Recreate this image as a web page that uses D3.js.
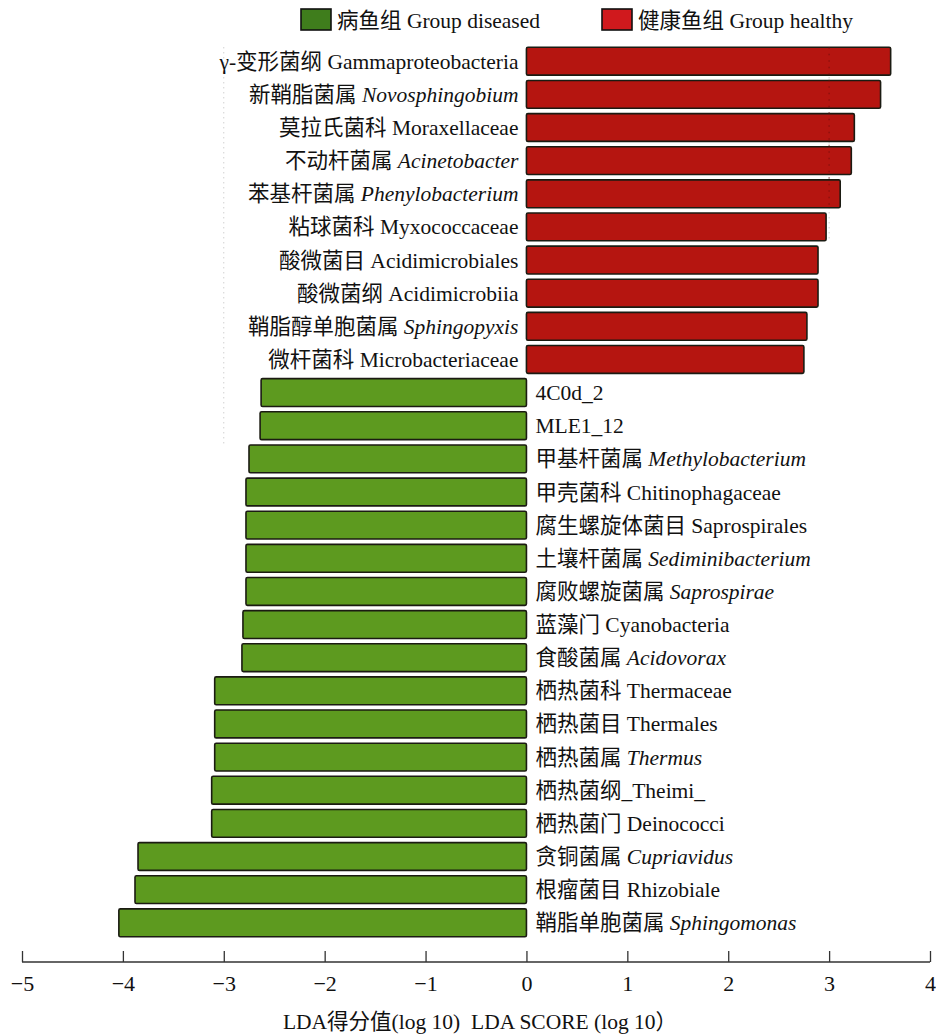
<!DOCTYPE html>
<html>
<head>
<meta charset="utf-8">
<script src="https://cdn.jsdelivr.net/npm/d3@7"></script>
<style>
  html, body { margin: 0; padding: 0; background: #ffffff; }
  svg { display: block; }
  text { font-family: "Liberation Serif", "Noto Sans CJK SC", serif; fill: #111; }
</style>
</head>
<body>
<svg id="chart" width="936" height="1035"></svg>
<script>
// LEfSe LDA scores: taxa enriched in each group (top to bottom)
const cnNames = [
  "γ-变形菌纲", "新鞘脂菌属", "莫拉氏菌科", "不动杆菌属", "苯基杆菌属",
  "粘球菌科", "酸微菌目", "酸微菌纲", "鞘脂醇单胞菌属", "微杆菌科",
  "", "", "甲基杆菌属", "甲壳菌科", "腐生螺旋体菌目",
  "土壤杆菌属", "腐败螺旋菌属", "蓝藻门", "食酸菌属", "栖热菌科",
  "栖热菌目", "栖热菌属", "栖热菌纲", "栖热菌门", "贪铜菌属",
  "根瘤菌目", "鞘脂单胞菌属"
];
const latinNames = [
  "Gammaproteobacteria", "Novosphingobium", "Moraxellaceae", "Acinetobacter", "Phenylobacterium",
  "Myxococcaceae", "Acidimicrobiales", "Acidimicrobiia", "Sphingopyxis", "Microbacteriaceae",
  "4C0d_2", "MLE1_12", "Methylobacterium", "Chitinophagaceae", "Saprospirales",
  "Sediminibacterium", "Saprospirae", "Cyanobacteria", "Acidovorax", "Thermaceae",
  "Thermales", "Thermus", "_Theimi_", "Deinococci", "Cupriavidus",
  "Rhizobiale", "Sphingomonas"
];
const italicFlags = [
  false, true, false, true, true,
  false, false, false, true, false,
  false, false, true, false, false,
  true, true, false, true, false,
  false, true, false, false, true,
  false, true
];
const ldaScores = [
  3.61, 3.51, 3.25, 3.22, 3.11,
  2.97, 2.89, 2.89, 2.78, 2.75,
  -2.63, -2.64, -2.75, -2.78, -2.78,
  -2.78, -2.78, -2.81, -2.82, -3.09,
  -3.09, -3.09, -3.12, -3.12, -3.85,
  -3.88, -4.04
];
const groupNames = ["病鱼组 Group diseased", "健康鱼组 Group healthy"];
const tickValues = [-5, -4, -3, -2, -1, 0, 1, 2, 3, 4];
const axisTitle = "LDA得分值(log 10)\u00a0\u00a0LDA SCORE (log 10）";

const rows = ldaScores.map((v, i) => ({
  id: i, cn: cnNames[i], latin: latinNames[i], italic: italicFlags[i], value: v
}));
// "栖热菌纲_Theimi_" is written without a space
rows[22].joined = true;

const colors = { diseased: "#5d9a1f", healthy: "#b51510", stroke: "#1b1b12",
                 legendDiseased: "#3f7d1c", legendHealthy: "#d0191d" };

const svg = d3.select("#chart");

const x = d3.scaleLinear().domain([-5, 4]).range([22, 930]);
const y = d3.scaleBand().domain(rows.map(d => d.id)).range([42, 942]).paddingInner(0.16).paddingOuter(0.16);

// faint dotted guides
svg.append("g").selectAll("line").data([-3, 3]).join("line")
  .attr("x1", d => x(d)).attr("x2", d => x(d))
  .attr("y1", y(0)).attr("y2", d => d < 0 ? y(12) : y(5) + y.bandwidth())
  .attr("stroke", "#bbb").attr("stroke-width", 1).attr("stroke-dasharray", "1,4");

// bars
svg.append("g").selectAll("rect").data(rows).join("rect")
  .attr("x", d => x(Math.min(0, d.value)))
  .attr("y", d => y(d.id))
  .attr("width", d => Math.abs(x(d.value) - x(0)))
  .attr("height", y.bandwidth())
  .attr("rx", 1.5)
  .attr("fill", d => d.value > 0 ? colors.healthy : colors.diseased)
  .attr("stroke", colors.stroke).attr("stroke-width", 1.6);

// dotted guide at 3 shows through the top healthy bars
svg.append("line")
  .attr("x1", x(3)).attr("x2", x(3))
  .attr("y1", y(0)).attr("y2", y(4) + y.bandwidth())
  .attr("stroke", "#6a0c0a").attr("stroke-opacity", 0.6).attr("stroke-width", 1.2).attr("stroke-dasharray", "1.5,5");

// taxon labels
const labels = svg.append("g").selectAll("text").data(rows).join("text")
  .attr("x", d => d.value > 0 ? x(0) - 8 : x(0) + 9)
  .attr("y", d => y(d.id) + y.bandwidth() / 2)
  .attr("dy", "0.35em")
  .attr("text-anchor", d => d.value > 0 ? "end" : "start")
  .style("font-size", "21.5px");
labels.each(function(d) {
  const t = d3.select(this);
  if (d.cn) t.append("tspan").text(d.cn + (d.joined ? "" : " "));
  t.append("tspan").text(d.latin).style("font-style", d.italic ? "italic" : "normal");
});

// legend
const legend = svg.append("g");
const legendItems = [
  { name: groupNames[0], color: colors.legendDiseased, x: 301 },
  { name: groupNames[1], color: colors.legendHealthy, x: 602 }
];
legendItems.forEach(it => {
  legend.append("rect").attr("x", it.x).attr("y", 9).attr("width", 30).attr("height", 21)
    .attr("fill", it.color).attr("stroke", "#111").attr("stroke-width", 1.6);
  legend.append("text").attr("x", it.x + 36).attr("y", 20).attr("dy", "0.35em")
    .style("font-size", "21.5px").text(it.name);
});

// x axis
const axisY = 962;
const axis = svg.append("g").attr("transform", `translate(0,${axisY})`)
  .call(d3.axisTop(x).tickValues(tickValues).tickSize(11).tickFormat(d => d < 0 ? "−" + Math.abs(d) : d));
axis.select(".domain").attr("stroke", "#333").attr("stroke-width", 1.3).attr("d", `M${x(-5)},0H${x(4)}`);
axis.selectAll(".tick line").attr("stroke", "#333").attr("stroke-width", 1.3);
axis.selectAll(".tick text").attr("y", 21).attr("dy", "0.35em")
  .style("font-size", "22px").style("font-family", "'Liberation Serif', serif").attr("fill", "#111");

svg.append("text").attr("x", 480).attr("y", 1021).attr("dy", "0.35em")
  .attr("text-anchor", "middle").style("font-size", "21.5px").text(axisTitle);
</script>
</body>
</html>
